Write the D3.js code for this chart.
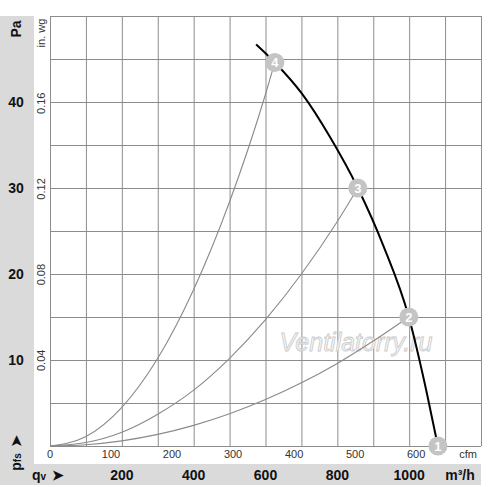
<!DOCTYPE html>
<html>
<head>
<meta charset="utf-8">
<script src="https://cdn.jsdelivr.net/npm/d3@7"></script>
<style>
  body { margin: 0; background: #fff; }
  svg text { font-family: "Liberation Sans", Arial, sans-serif; }
</style>
</head>
<body>
<div id="chart"></div>
<script>
// fan curve (m3/h, Pa)
const fanQ = [574, 626, 701, 780, 857, 928, 999, 1049, 1080]
const fanP = [46.7, 44.6, 41.0, 35.9, 30.0, 23.3, 15.0, 6.2, 0]

// system curves through operating points 2, 3, 4
const sys2Q = [0, 100, 200, 300, 400, 500, 600, 700, 800, 900, 999]
const sys2P = [0, 0.15, 0.6, 1.35, 2.4, 3.75, 5.4, 7.35, 9.6, 12.2, 15.0]
const sys3Q = [0, 100, 200, 300, 400, 500, 600, 700, 800, 857]
const sys3P = [0, 0.4, 1.6, 3.7, 6.5, 10.2, 14.7, 20, 26.1, 30]
const sys4Q = [0, 100, 200, 300, 400, 500, 600, 626]
const sys4P = [0, 1.1, 4.5, 10.2, 18.2, 28.4, 40.9, 44.6]

// operating points
const opLabels = ["1", "2", "3", "4"]
const opQ = [1080, 999, 857, 626]
const opP = [0, 15.0, 30.0, 44.6]

// tick labels
const paTicks = [10, 20, 30, 40]
const inwgTicks = [0.04, 0.08, 0.12, 0.16]
const m3hTicks = [200, 400, 600, 800, 1000]
const cfmTicks = [0, 100, 200, 300, 400, 500, 600]

const W = 500, H = 487
const PLOT = { LEFT: 50, RIGHT: 481, TOP: 16, BOTTOM: 446 }

const svg = d3.select("#chart").append("svg")
  .attr("width", W)
  .attr("height", H)

const x = d3.scaleLinear().domain([0, 1200]).range([PLOT.LEFT, PLOT.RIGHT])
const y = d3.scaleLinear().domain([0, 50]).range([PLOT.BOTTOM, PLOT.TOP])
const xCfm = d3.scaleLinear().domain([0, 1200 / 1.699]).range([PLOT.LEFT, PLOT.RIGHT])
const yInwg = d3.scaleLinear().domain([0, 50 / 249.09]).range([PLOT.BOTTOM, PLOT.TOP])

// grey bands
svg.append("rect").attr("x", 0).attr("y", 16).attr("width", 34).attr("height", 469).attr("fill", "#dadada")
svg.append("rect").attr("x", 0).attr("y", 464).attr("width", 481).attr("height", 21).attr("fill", "#dadada")

// grid
const gridX = d3.axisBottom(x)
  .tickValues(d3.range(0, 1201, 100))
  .tickSize(-(PLOT.BOTTOM - PLOT.TOP))
  .tickFormat("")
svg.append("g")
  .attr("class", "grid")
  .attr("transform", `translate(0, ${PLOT.BOTTOM})`)
  .call(gridX)

const gridY = d3.axisLeft(y)
  .tickValues(d3.range(0, 51, 5))
  .tickSize(-(PLOT.RIGHT - PLOT.LEFT))
  .tickFormat("")
svg.append("g")
  .attr("class", "grid")
  .attr("transform", `translate(${PLOT.LEFT}, 0)`)
  .call(gridY)

svg.selectAll(".grid .domain").remove()
svg.selectAll(".grid line").attr("stroke", "#8c8c8c").attr("stroke-width", 1)

// watermark
svg.append("text")
  .attr("x", 356)
  .attr("y", 351)
  .attr("text-anchor", "middle")
  .attr("font-size", "25px")
  .attr("font-style", "italic")
  .attr("fill", "#f6f6f6")
  .attr("stroke", "#cacaca")
  .attr("stroke-width", 0.8)
  .text("Ventilatorry.ru")

// curves
const line = d3.line()
  .x(d => x(d[0]))
  .y(d => y(d[1]))
  .curve(d3.curveMonotoneX)

const systems = [[sys2Q, sys2P], [sys3Q, sys3P], [sys4Q, sys4P]]
systems.forEach(s => {
  svg.append("path")
    .datum(s[0].map((q, i) => [q, s[1][i]]))
    .attr("d", line)
    .attr("fill", "none")
    .attr("stroke", "#8a8a8a")
    .attr("stroke-width", 1.1)
})

svg.append("path")
  .datum(fanQ.map((q, i) => [q, fanP[i]]))
  .attr("d", line)
  .attr("fill", "none")
  .attr("stroke", "#000")
  .attr("stroke-width", 2)

// operating point markers
const ops = svg.selectAll(".op")
  .data(opLabels.map((l, i) => ({ label: l, q: opQ[i], p: opP[i] })))
  .enter().append("g")
  .attr("class", "op")
  .attr("transform", d => `translate(${x(d.q)}, ${y(d.p)})`)

ops.append("circle").attr("r", 9.5).attr("fill", "#c4c4c4")
ops.append("text")
  .attr("text-anchor", "middle")
  .attr("dy", "0.36em")
  .attr("font-size", "13px")
  .attr("font-weight", "bold")
  .attr("fill", "#fff")
  .text(d => d.label)

// left labels: Pa
svg.selectAll(".pa")
  .data(paTicks)
  .enter().append("text")
  .attr("x", 16)
  .attr("y", d => y(d))
  .attr("dy", "0.36em")
  .attr("text-anchor", "middle")
  .attr("font-size", "14px")
  .attr("font-weight", "bold")
  .attr("fill", "#111")
  .text(d => d)

svg.append("text")
  .attr("transform", `translate(21, 29) rotate(-90)`)
  .attr("text-anchor", "middle")
  .attr("font-size", "14px")
  .attr("font-weight", "bold")
  .attr("fill", "#111")
  .text("Pa")

// in. wg labels
svg.selectAll(".inwg")
  .data(inwgTicks)
  .enter().append("text")
  .attr("transform", d => `translate(45, ${yInwg(d)}) rotate(-90)`)
  .attr("text-anchor", "middle")
  .attr("font-size", "11px")
  .attr("fill", "#333")
  .text(d => d.toFixed(2))

svg.append("text")
  .attr("transform", `translate(45, 33) rotate(-90)`)
  .attr("text-anchor", "middle")
  .attr("font-size", "11px")
  .attr("fill", "#333")
  .text("in. wg")

// pfs label
const pfs = svg.append("text")
  .attr("transform", `translate(21, 453) rotate(-90)`)
  .attr("text-anchor", "middle")
  .attr("font-size", "14px")
  .attr("font-weight", "bold")
  .attr("fill", "#111")
pfs.append("tspan").text("p")
pfs.append("tspan").attr("font-size", "10px").text("fs")
pfs.append("tspan").attr("dx", 6).text("➤")

// cfm labels
svg.selectAll(".cfm")
  .data(cfmTicks)
  .enter().append("text")
  .attr("x", d => xCfm(d))
  .attr("y", 458)
  .attr("text-anchor", "middle")
  .attr("font-size", "11px")
  .attr("fill", "#333")
  .text(d => d)

svg.append("text")
  .attr("x", 468)
  .attr("y", 458)
  .attr("text-anchor", "middle")
  .attr("font-size", "11px")
  .attr("fill", "#333")
  .text("cfm")

// m3/h labels
svg.selectAll(".m3h")
  .data(m3hTicks)
  .enter().append("text")
  .attr("x", d => x(d))
  .attr("y", 480)
  .attr("text-anchor", "middle")
  .attr("font-size", "14px")
  .attr("font-weight", "bold")
  .attr("fill", "#111")
  .text(d => d)

svg.append("text")
  .attr("x", 460)
  .attr("y", 480)
  .attr("text-anchor", "middle")
  .attr("font-size", "14px")
  .attr("font-weight", "bold")
  .attr("fill", "#111")
  .text("m³/h")

const qv = svg.append("text")
  .attr("x", 32)
  .attr("y", 480)
  .attr("font-size", "14px")
  .attr("font-weight", "bold")
  .attr("fill", "#111")
qv.append("tspan").text("q")
qv.append("tspan").attr("font-size", "10px").text("v")
qv.append("tspan").attr("dx", 6).text("➤")
</script>
</body>
</html>
